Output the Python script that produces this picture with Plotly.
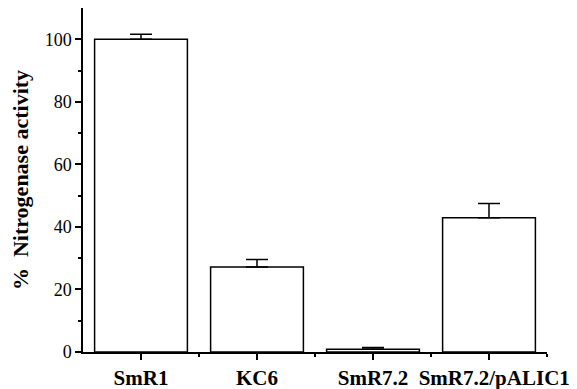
import plotly.graph_objects as go

categories = ["SmR1", "KC6", "SmR7.2", "SmR7.2/pALIC1"]
values = [100.0, 27.2, 0.9, 42.9]
errors_plus = [1.6, 2.4, 0.5, 4.6]
y_tick_vals = [0, 20, 40, 60, 80, 100]
y_minor_vals = [10, 30, 50, 70, 90]

xpos = list(range(len(categories)))
FONT = "'Liberation Serif', 'Times New Roman', Times, serif"

fig = go.Figure()
fig.add_trace(go.Bar(
    x=xpos, y=values, width=0.8,
    marker=dict(color="white", line=dict(color="black", width=1.5)),
    error_y=dict(type="data", array=errors_plus, arrayminus=[0]*len(values),
                 symmetric=False, color="black", thickness=1.5, width=11),
))

ticktext = categories[:3] + ["\u00a0\u00a0" + categories[3]]

# the page body has a default 8px margin, so offsets are compensated here
fig.update_layout(
    width=577, height=389,
    margin=dict(l=75, r=38, t=0, b=45),
    plot_bgcolor="white", paper_bgcolor="white",
    showlegend=False,
    font=dict(family=FONT, color="black"),
    xaxis=dict(
        range=[-0.5, 3.5], tickvals=xpos, ticktext=ticktext, automargin=False,
        tickangle=0,
        ticks="outside", ticklen=6, tickwidth=1.5, tickcolor="black",
        showline=True, linecolor="black", linewidth=1.5, showgrid=False, zeroline=False,
        tickfont=dict(family=FONT, size=21, color="black", weight="bold"),
        minor=dict(tickvals=[0.5, 1.5, 2.5, 3.5], ticks="outside", ticklen=3,
                   tickwidth=1.5, tickcolor="black", showgrid=False),
    ),
    yaxis=dict(
        range=[0, 110], tickvals=y_tick_vals, automargin=False,
        ticks="outside", ticklen=6, tickwidth=1.5, tickcolor="black",
        showline=True, linecolor="black", linewidth=1.5, showgrid=False, zeroline=False,
        tickfont=dict(family=FONT, size=18, color="black"),
        minor=dict(tickvals=y_minor_vals, ticks="outside", ticklen=3,
                   tickwidth=1.5, tickcolor="black", showgrid=False),
        title=dict(text="%\u00a0\u00a0Nitrogenase activity", standoff=10,
                   font=dict(family=FONT, size=22, color="black", weight="bold")),
    ),
)

fig.write_html("out.html")
